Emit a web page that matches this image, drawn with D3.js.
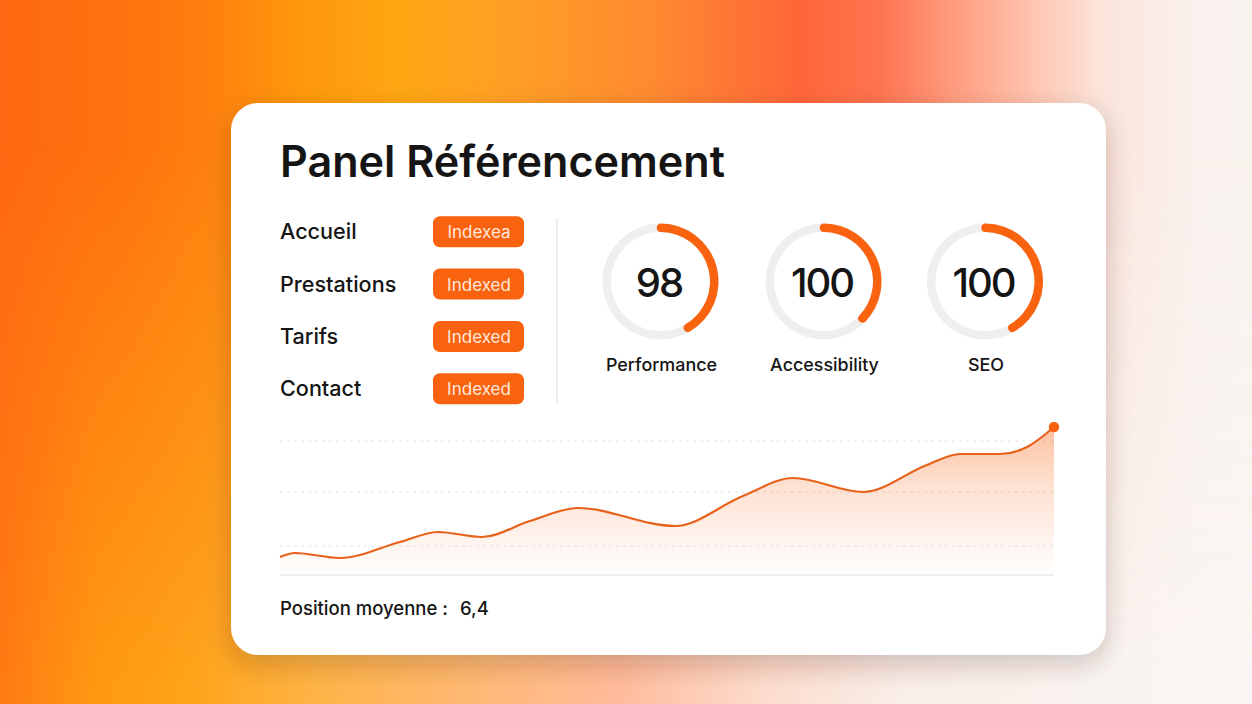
<!DOCTYPE html>
<html>
<head>
<meta charset="utf-8">
<title>Panel Référencement</title>
<script src="https://cdn.jsdelivr.net/npm/d3@7"></script>
<style>
  html, body { margin: 0; padding: 0; background: #fff; overflow: hidden; }
  svg { display: block; }
  text { font-family: Inter, 'Noto Sans', sans-serif; fill: #151515; }
</style>
</head>
<body>
<svg id="chart" width="1252" height="704"></svg>
<script>
const title = 'Panel Référencement'
const pages = ['Accueil', 'Prestations', 'Tarifs', 'Contact']
const pageStatus = ['Indexea', 'Indexed', 'Indexed', 'Indexed']
const gaugeLabels = ['Performance', 'Accessibility', 'SEO']
const gaugeScores = ['98', '100', '100']
const gaugeSweep = [150, 134, 150]
const summaryLabel = 'Position moyenne :'
const summaryValue = '6,4'

const trendX = [0, 15, 60, 120, 158, 202, 250, 298, 395, 463, 513, 583, 647, 680, 720, 747, 774]
const trendY = [18, 22, 17, 33, 43, 38, 54, 67, 49, 79, 97, 83, 110, 121, 121, 128, 148]
const gridValues = [29, 83, 134]

const orange = '#f9620f'
const svg = d3.select('#chart')
const defs = svg.append('defs')

const addGradient = (id, stops) => {
  defs.append('linearGradient').attr('id', id)
    .attr('gradientUnits', 'userSpaceOnUse')
    .attr('x1', 0).attr('x2', 1252).attr('y1', 0).attr('y2', 0)
    .selectAll('stop').data(stops).enter().append('stop')
    .attr('offset', d => d[0] / 1252)
    .attr('stop-color', d => d[1])
}

const background = () => {
  addGradient('bg-top', [
    [0, '#ff6812'], [120, '#ff720f'], [200, '#ff7e0e'], [300, '#ff980c'], [400, '#ffa612'],
    [500, '#ffa024'], [650, '#ff8a30'], [800, '#ff6639'], [880, '#ff7450'], [950, '#ff9a7c'],
    [1040, '#ffc8b4'], [1100, '#fbe4da'], [1200, '#faf2ee'], [1252, '#faf4f0']
  ])
  addGradient('bg-bottom', [
    [0, '#ff7a14'], [100, '#ff9a12'], [200, '#ffa51c'], [320, '#ffb448'], [500, '#ffb97c'],
    [620, '#ffbb9c'], [760, '#fcdccc'], [900, '#f9eee8'], [1100, '#faf4f0'], [1252, '#faf5f2']
  ])

  const fade = defs.append('linearGradient').attr('id', 'fade')
    .attr('x1', 0).attr('x2', 0).attr('y1', 0).attr('y2', 1)
  fade.append('stop').attr('offset', 0.2).attr('stop-color', '#000')
  fade.append('stop').attr('offset', 0.98).attr('stop-color', '#fff')
  defs.append('mask').attr('id', 'fade-mask')
    .attr('maskUnits', 'userSpaceOnUse')
    .attr('x', 0).attr('y', 0).attr('width', 1252).attr('height', 704)
    .append('rect').attr('width', 1252).attr('height', 704).attr('fill', 'url(#fade)')

  svg.append('rect').attr('width', 1252).attr('height', 704).attr('fill', 'url(#bg-top)')
  svg.append('rect').attr('width', 1252).attr('height', 704).attr('fill', 'url(#bg-bottom)')
    .attr('mask', 'url(#fade-mask)')
}

const card = () => {
  const shadow = defs.append('filter').attr('id', 'shadow')
    .attr('x', '-10%').attr('y', '-10%').attr('width', '120%').attr('height', '125%')
  shadow.append('feDropShadow')
    .attr('dx', 0).attr('dy', 9).attr('stdDeviation', 13)
    .attr('flood-color', '#3a2a20').attr('flood-opacity', 0.22)

  svg.append('rect')
    .attr('x', 231).attr('y', 103).attr('width', 875).attr('height', 552).attr('rx', 27)
    .attr('fill', '#fff').attr('filter', 'url(#shadow)')

  svg.append('text')
    .attr('x', 280).attr('y', 177)
    .attr('font-size', 43.1).attr('font-weight', 600)
    .text(title)
}

const pageList = () => {
  const y = d3.scaleBand().domain(pages).range([205.5, 415])
  const row = svg.append('g').selectAll('g').data(pages).enter().append('g')
    .attr('transform', d => `translate(0,${y(d) + y.bandwidth() / 2})`)

  row.append('text')
    .attr('x', 280).attr('y', 7.5)
    .attr('font-size', 21.6).attr('font-weight', 500)
    .text(d => d)

  row.append('rect')
    .attr('x', 433).attr('y', -15.5).attr('width', 91).attr('height', 31).attr('rx', 7)
    .attr('fill', orange)

  row.append('text')
    .attr('x', 479).attr('y', 6.5).attr('text-anchor', 'middle')
    .attr('font-size', 17).attr('font-weight', 400)
    .style('fill', '#ffe9dc')
    .text((d, i) => pageStatus[i])

  svg.append('line')
    .attr('x1', 557).attr('x2', 557).attr('y1', 218).attr('y2', 403)
    .attr('stroke', '#e2e2e2').attr('stroke-width', 1.2)
}

const gauges = () => {
  const centerX = d3.scaleOrdinal().domain(gaugeLabels).range([660.5, 823.5, 985])
  const angle = d3.scaleLinear().domain([0, 360]).range([0, 2 * Math.PI])
  const ring = d3.arc().innerRadius(49.5).outerRadius(58)

  const gauge = svg.append('g').selectAll('g').data(gaugeLabels).enter().append('g')
    .attr('transform', d => `translate(${centerX(d)},281.5)`)

  gauge.append('path')
    .attr('d', ring({ startAngle: 0, endAngle: 2 * Math.PI }))
    .attr('fill', '#f1efed')

  gauge.append('path')
    .attr('d', (d, i) => ring.cornerRadius(4.2)({ startAngle: angle(-4), endAngle: angle(gaugeSweep[i] + 4) }))
    .attr('fill', orange)

  gauge.append('text')
    .attr('x', -1.5).attr('y', 15).attr('text-anchor', 'middle')
    .attr('font-size', 40).attr('font-weight', 500).attr('letter-spacing', -2)
    .text((d, i) => gaugeScores[i])

  gauge.append('text')
    .attr('x', 1).attr('y', 89).attr('text-anchor', 'middle')
    .attr('font-size', 17.9).attr('font-weight', 450)
    .text(d => d)
}

const trend = () => {
  const x = d3.scaleLinear().domain([0, 774]).range([280, 1054])
  const y = d3.scaleLinear().domain([0, 148]).range([575, 427])
  const points = trendX.map((d, i) => [d, trendY[i]])

  const fill = defs.append('linearGradient').attr('id', 'area')
    .attr('gradientUnits', 'userSpaceOnUse')
    .attr('x1', 0).attr('x2', 0).attr('y1', 427).attr('y2', 575)
  fill.append('stop').attr('offset', 0).attr('stop-color', '#fa6a1c').attr('stop-opacity', 0.42)
  fill.append('stop').attr('offset', 0.4).attr('stop-color', '#fa6a1c').attr('stop-opacity', 0.2)
  fill.append('stop').attr('offset', 1).attr('stop-color', '#fa6a1c').attr('stop-opacity', 0)

  const area = d3.area().x(d => x(d[0])).y0(y(0)).y1(d => y(d[1])).curve(d3.curveMonotoneX)
  const line = d3.line().x(d => x(d[0])).y(d => y(d[1])).curve(d3.curveMonotoneX)

  svg.append('g').selectAll('line').data(gridValues).enter().append('line')
    .attr('x1', x(0)).attr('x2', x(774))
    .attr('y1', d => y(d)).attr('y2', d => y(d))
    .attr('stroke', '#e4e4e4').attr('stroke-width', 1).attr('stroke-dasharray', '3 4')

  svg.append('path').attr('d', area(points)).attr('fill', 'url(#area)')
  svg.append('line')
    .attr('x1', x(0)).attr('x2', x(774)).attr('y1', y(0)).attr('y2', y(0))
    .attr('stroke', '#dfdfdf').attr('stroke-width', 1.2)
  svg.append('path').attr('d', line(points))
    .attr('fill', 'none').attr('stroke', '#e8611a').attr('stroke-width', 2.2)
  svg.append('circle')
    .attr('cx', x(774)).attr('cy', y(148)).attr('r', 5.2)
    .attr('fill', orange)

  svg.append('text')
    .attr('x', 280).attr('y', 615)
    .attr('font-size', 18.5).attr('font-weight', 450)
    .text(summaryLabel)
  svg.append('text')
    .attr('x', 460).attr('y', 615)
    .attr('font-size', 18.5).attr('font-weight', 450)
    .text(summaryValue)
}

background()
card()
pageList()
gauges()
trend()
</script>
</body>
</html>
